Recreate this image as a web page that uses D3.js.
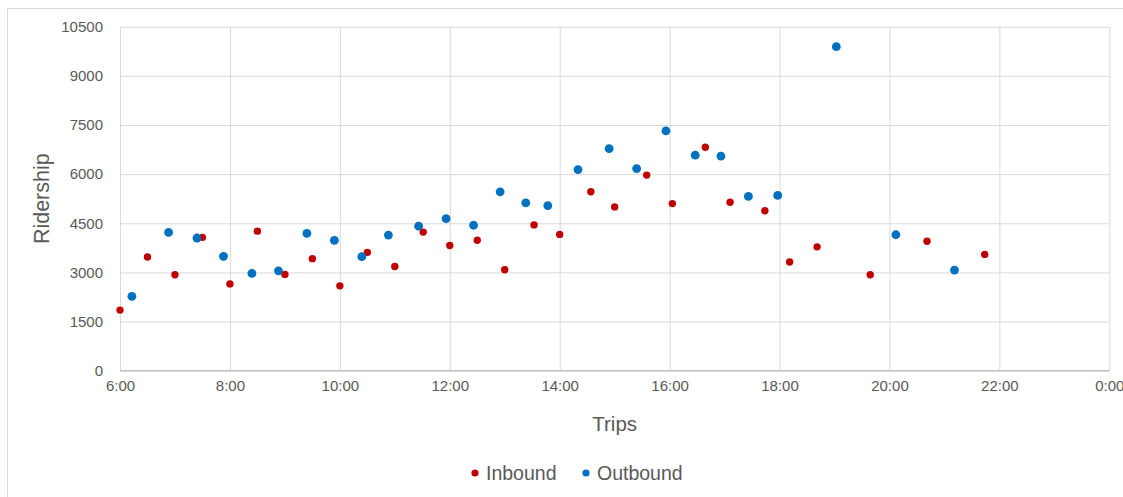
<!DOCTYPE html>
<html>
<head>
<meta charset="utf-8">
<script src="https://cdn.jsdelivr.net/npm/d3@7"></script>
<style>
  html, body { margin: 0; padding: 0; background: #fff; }
  svg { display: block; font-family: "Liberation Sans", Arial, sans-serif; }
</style>
</head>
<body>
<svg id="chart" width="1123" height="497"></svg>
<script>
// Inbound trips: departure time and ridership
const inboundTimes = ["6:00","6:30","7:00","7:30","8:00","8:30","9:00","9:30","10:00","10:30",
  "11:00","11:31","12:00","12:30","13:00","13:32","14:00","14:34","15:00","15:35",
  "16:03","16:39","17:06","17:44","18:11","18:41","19:39","20:41","21:44"];
const inboundRiders = [1850,3470,2930,4070,2650,4260,2940,3420,2590,3610,
  3180,4230,3820,3980,3080,4450,4160,5460,5000,5970,
  5100,6820,5140,4880,3320,3780,2930,3950,3550];

// Outbound trips: departure time and ridership
const outboundTimes = ["6:13","6:53","7:24","7:53","8:24","8:53","9:24","9:54","10:24","10:53",
  "11:26","11:56","12:26","12:55","13:23","13:47","14:20","14:54","15:24","15:56",
  "16:28","16:56","17:26","17:58","19:02","20:07","21:11"];
const outboundRiders = [2270,4220,4050,3490,2970,3050,4190,3980,3480,4140,
  4410,4640,4440,5460,5120,5040,6140,6780,6170,7320,
  6580,6550,5320,5350,9890,4150,3070];

const yTicks = [0,1500,3000,4500,6000,7500,9000,10500];
const xTickLabels = ["6:00","8:00","10:00","12:00","14:00","16:00","18:00","20:00","22:00","0:00"];

const seriesNames = ["Inbound","Outbound"];
const seriesColors = ["#C00000","#0070C0"];

const svg = d3.select("#chart");
const W = 1123, H = 497;
const plot = {left: 120, right: 1109.3, top: 26.7, bottom: 370.7};

// chart frame
svg.append("rect")
  .attr("x", 7.5).attr("y", 8.5)
  .attr("width", W + 10).attr("height", H + 10)
  .attr("fill", "#fff").attr("stroke", "#d9d9d9").attr("stroke-width", 1);

// times are hours since midnight; 0:00 closes the day at 24
const toHours = s => { const [h, m] = s.split(":").map(Number); return h + m / 60; };

const x = d3.scaleLinear().domain([6, 24]).range([plot.left, plot.right]);
const y = d3.scaleLinear().domain([0, 10500]).range([plot.bottom, plot.top]);

const g = svg.append("g");

// vertical gridlines + tick labels
const xAxis = d3.axisBottom(x)
  .tickValues(d3.range(6, 24.01, 2))
  .tickSize(-(plot.bottom - plot.top))
  .tickPadding(10)
  .tickFormat((d, i) => xTickLabels[i]);
const gx = g.append("g").attr("transform", `translate(0,${plot.bottom})`).call(xAxis);
gx.select(".domain").remove();
gx.selectAll(".tick line").attr("stroke", "#d9d9d9").attr("stroke-width", 1);
gx.selectAll(".tick text").attr("fill", "#595959").attr("font-size", 15)
  .attr("font-family", "Liberation Sans, Arial, sans-serif");

// horizontal gridlines + tick labels
const yAxis = d3.axisLeft(y)
  .tickValues(yTicks)
  .tickSize(-(plot.right - plot.left))
  .tickPadding(17)
  .tickFormat(d3.format("d"));
const gy = g.append("g").attr("transform", `translate(${plot.left},0)`).call(yAxis);
gy.select(".domain").remove();
gy.selectAll(".tick line").attr("stroke", "#d9d9d9").attr("stroke-width", 1);
gy.selectAll(".tick text").attr("fill", "#595959").attr("font-size", 15)
  .attr("font-family", "Liberation Sans, Arial, sans-serif");

// baseline
g.append("line")
  .attr("x1", plot.left).attr("x2", plot.right)
  .attr("y1", y(0)).attr("y2", y(0))
  .attr("stroke", "#bfbfbf").attr("stroke-width", 1.3);

// points
const inbound = inboundTimes.map((t, i) => ({t: toHours(t), v: inboundRiders[i]}));
const outbound = outboundTimes.map((t, i) => ({t: toHours(t), v: outboundRiders[i]}));

g.append("g").selectAll("circle").data(inbound).join("circle")
  .attr("cx", d => x(d.t)).attr("cy", d => y(d.v)).attr("r", 3.7)
  .attr("fill", seriesColors[0]);

g.append("g").selectAll("circle").data(outbound).join("circle")
  .attr("cx", d => x(d.t)).attr("cy", d => y(d.v)).attr("r", 4.4)
  .attr("fill", seriesColors[1]);

// axis titles
svg.append("text")
  .attr("x", (plot.left + plot.right) / 2).attr("y", 431)
  .attr("text-anchor", "middle").attr("font-size", 20.5).attr("fill", "#595959")
  .text("Trips");

svg.append("text")
  .attr("transform", `translate(49,${(plot.top + plot.bottom) / 2}) rotate(-90)`)
  .attr("text-anchor", "middle").attr("font-size", 21.5).attr("fill", "#595959")
  .text("Ridership");

// legend
const legendItems = [
  {name: seriesNames[0], color: seriesColors[0], cx: 475, tx: 486},
  {name: seriesNames[1], color: seriesColors[1], cx: 586, tx: 597}
];
const lg = svg.append("g");
legendItems.forEach(it => {
  lg.append("circle").attr("cx", it.cx).attr("cy", 473).attr("r", 3.6).attr("fill", it.color);
  lg.append("text").attr("x", it.tx).attr("y", 479.5)
    .attr("font-size", 19.5).attr("fill", "#595959").text(it.name);
});
</script>
</body>
</html>
